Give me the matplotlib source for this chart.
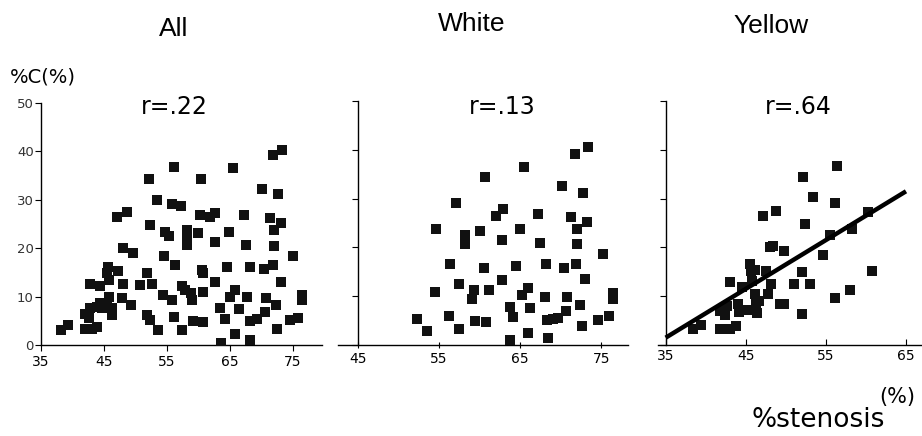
import numpy as np
import matplotlib as mpl
mpl.use("Agg")
import matplotlib.pyplot as plt

# %stenosis vs %C
all_x = [38.3, 39.3, 42.0, 43.1, 43.9, 42.0, 42.6, 42.8, 43.9, 44.7, 45.5, 46.3, 46.3, 44.4,
         42.8, 44.4, 45.7, 45.5, 45.9, 45.9, 47.3, 48.0, 47.9, 48.1, 47.1, 48.7, 49.7, 49.4,
         50.8, 51.8, 52.7, 51.8, 52.4, 53.6, 52.2, 52.4, 53.4, 54.5, 54.4, 54.7, 55.4, 55.9,
         56.3, 56.2, 56.1, 55.9, 57.3, 57.4, 57.4, 58.2, 58.2, 58.2, 57.9, 58.8, 59.0, 59.2,
         60.0, 60.4, 60.3, 60.6, 60.7, 60.8, 60.8, 61.9, 62.7, 62.7, 62.7, 63.5, 63.7, 64.3,
         64.5, 64.9, 65.1, 65.8, 65.6, 65.8, 66.4, 67.2, 67.6, 67.8, 68.2, 68.2, 68.3, 69.3,
         70.1, 70.5, 70.6, 70.8, 71.4, 71.8, 71.9, 72.0, 72.0, 72.4, 72.5, 72.7, 73.1, 73.3,
         73.2, 75.1, 74.6, 75.9, 76.4, 76.4]
all_y = [3.2, 4.1, 3.4, 3.4, 3.8, 6.5, 5.5, 7.6, 7.9, 7.6, 7.9, 7.6, 6.2, 8.6,
         12.7, 12.2, 16.2, 14.8, 13.4, 10.0, 15.2, 12.6, 9.8, 20.0, 26.5, 27.5, 19.1, 8.3,
         12.4, 14.8, 12.6, 6.2, 5.2, 3.0, 34.4, 24.8, 30.0, 18.4, 10.3, 23.4, 22.5, 9.4,
         16.5, 5.7, 36.7, 29.1, 28.8, 3.2, 12.2, 23.8, 22.5, 20.7, 11.4, 10.7, 9.3, 5.0,
         23.1, 34.4, 26.9, 15.5, 14.9, 11.0, 4.8, 26.5, 27.3, 21.3, 13.1, 7.6, 0.5, 5.4,
         16.2, 23.4, 10.0, 11.4, 36.5, 2.3, 7.4, 26.9, 20.7, 10.0, 16.2, 5.0, 1.0, 5.3,
         32.2, 15.8, 6.9, 9.8, 26.2, 16.5, 39.3, 23.8, 20.5, 8.3, 3.4, 31.3, 13.1, 40.3,
         25.3, 18.4, 5.2, 5.6, 10.3, 9.4]

white_x = [52.3, 53.5, 54.6, 54.5, 56.2, 56.4, 57.1, 57.5, 57.5, 58.2, 58.2, 59.0, 59.3,
           59.4, 60.0, 60.6, 60.5, 60.8, 61.1, 62.0, 62.8, 62.7, 62.9, 63.7, 63.8, 64.1,
           64.5, 65.0, 65.2, 65.5, 65.9, 65.9, 66.2, 67.2, 67.5, 68.2, 68.0, 68.3, 68.4,
           69.1, 69.7, 70.1, 70.4, 70.6, 70.8, 71.3, 71.8, 71.9, 72.0, 72.0, 72.4, 72.6,
           72.8, 73.0, 73.2, 73.3, 74.6, 75.2, 75.9, 76.4, 76.4]
white_y = [5.3, 2.9, 23.7, 10.8, 6.0, 16.6, 29.1, 12.6, 3.3, 22.5, 20.8, 9.4, 11.3,
           5.0, 23.3, 34.4, 15.7, 4.8, 11.3, 26.5, 13.3, 21.5, 27.8, 7.8, 1.0, 5.7,
           16.2, 23.7, 10.2, 36.4, 11.6, 2.5, 7.5, 26.9, 20.9, 16.6, 9.8, 5.1, 1.4,
           5.3, 5.5, 32.5, 15.7, 7.0, 9.8, 26.3, 39.1, 16.6, 23.7, 20.8, 8.3, 3.8,
           31.2, 13.5, 25.2, 40.5, 5.1, 18.6, 5.9, 10.6, 9.5]

yellow_x = [38.4, 39.4, 41.8, 43.0, 43.8, 41.8, 42.4, 42.6, 43.0, 44.0, 44.1, 44.5, 45.1,
            45.5, 45.6, 46.2, 45.8, 46.2, 46.3, 46.4, 46.6, 47.2, 47.5, 48.0, 48.4, 47.8,
            48.2, 48.8, 49.3, 49.8, 49.8, 51.0, 52.0, 52.0, 52.1, 52.4, 53.0, 53.4, 54.6,
            55.5, 56.1, 56.2, 56.4, 58.0, 58.3, 60.3, 60.8]
yellow_y = [3.2, 4.2, 3.2, 3.2, 3.9, 7.0, 6.2, 8.0, 13.0, 8.4, 6.8, 11.9, 7.1,
            16.6, 15.2, 15.3, 13.2, 10.4, 8.4, 6.6, 9.0, 26.5, 15.1, 20.1, 20.3, 10.4,
            12.6, 27.5, 8.5, 8.5, 19.2, 12.6, 14.9, 6.3, 34.5, 24.8, 12.6, 30.3, 18.4,
            22.5, 29.2, 9.6, 36.6, 11.2, 23.8, 27.2, 15.2]

# regression line drawn on the Yellow panel
fit_x = [35, 65]
fit_y = [1.5, 31.5]

titles = ["All", "White", "Yellow"]
r_labels = ["r=.22", "r=.13", "r=.64"]
x_ticks = [[35, 45, 55, 65, 75], [45, 55, 65, 75], [35, 45, 55, 65]]
y_ticks = [0, 10, 20, 30, 40, 50]

fig = plt.figure(figsize=(9.22, 4.36), dpi=100)

# [left, bottom, width, height], x-limits, where the y axis crosses, tick direction
panels = [
    ([0.0441, 0.2087, 0.3048, 0.555], (35, 79.6), 35, "out"),
    ([0.3663, 0.2087, 0.3149, 0.5596], (42.5, 78.3), 45, "inout"),
    ([0.7133, 0.2087, 0.2867, 0.5596], (34, 67), 35, "in"),
]
data = [(all_x, all_y), (white_x, white_y), (yellow_x, yellow_y)]
title_pos = [(174, 29), (472, 24), (771, 26)]
r_pos = [174, 502, 798]

for i, (rect, xl, cross, tdir) in enumerate(panels):
    ax = fig.add_axes(rect)
    x, y = data[i]
    ax.scatter(x, y, marker="s", s=44, color="#111111", linewidths=0, zorder=3)
    ax.set_xlim(*xl)
    ax.set_ylim(0, 50)
    ax.spines["top"].set_visible(False)
    ax.spines["right"].set_visible(False)
    ax.spines["left"].set_position(("data", cross))
    ax.spines["left"].set_linewidth(1.0)
    ax.spines["bottom"].set_linewidth(1.0)
    ax.set_xticks(x_ticks[i])
    ax.set_yticks(y_ticks)
    ax.tick_params(axis="x", direction=tdir, length=4, labelsize=10, pad=3)
    ax.tick_params(axis="y", direction="out", length=4, labelsize=9.5, pad=1,
                   labelcolor="#333333")
    if i > 0:
        ax.set_yticklabels([])
    ax.patch.set_visible(False)
    if i == 2:
        ax.plot(fit_x, fit_y, color="black", lw=3.2, solid_capstyle="butt", zorder=4)

    fig.text(r_pos[i] / 922, 1 - 107 / 436, r_labels[i], ha="center", va="center",
             fontsize=17)
    tx, ty = title_pos[i]
    fig.text(tx / 922, 1 - ty / 436, titles[i], ha="center", va="center",
             fontsize=19, family=["Liberation Sans", "DejaVu Sans"])

fig.text(10 / 922, 1 - 77 / 436, "%C(%)", ha="left", va="center", fontsize=14)
fig.text(915 / 922, 1 - 397 / 436, "(%)", ha="right", va="center", fontsize=15)
fig.text(885 / 922, 1 - 420 / 436, "%stenosis", ha="right", va="center", fontsize=19)

fig.savefig("out.png", dpi=100)
